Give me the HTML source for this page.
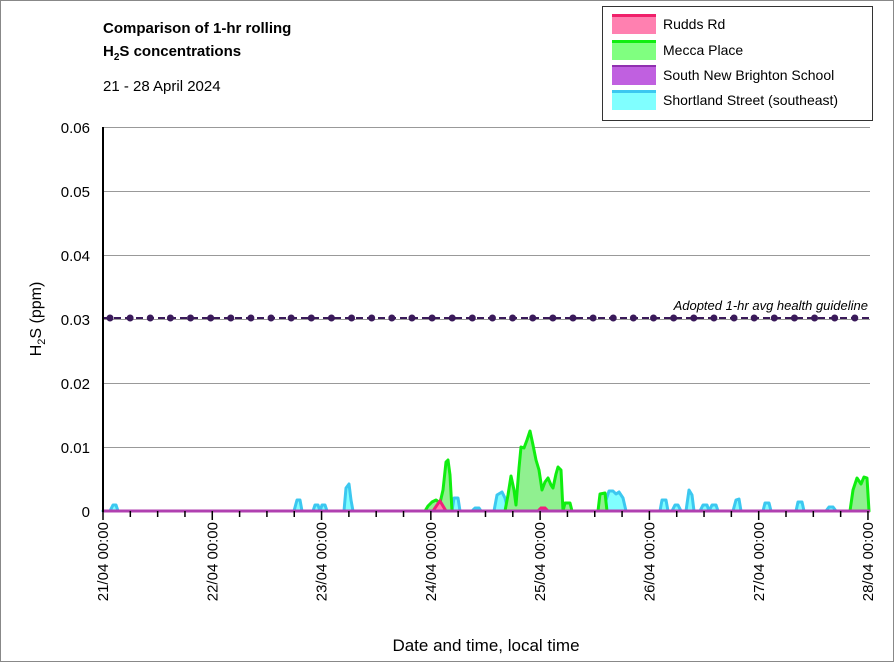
<!DOCTYPE html>
<html><head><style>
body{margin:0;background:#fff;}
svg{display:block;font-family:"Liberation Sans",Calibri,sans-serif;}
</style></head><body>
<svg width="894" height="662" viewBox="0 0 894 662" xmlns="http://www.w3.org/2000/svg">
<rect x="0.5" y="0.5" width="893" height="661" fill="#fff" stroke="#888"/>
<text x="103" y="33" font-size="15" font-weight="bold">Comparison of 1-hr rolling</text>
<text x="103" y="56" font-size="15" font-weight="bold">H<tspan font-size="10" dy="4">2</tspan><tspan dy="-4">S concentrations</tspan></text>
<text x="103" y="91" font-size="15">21 - 28 April 2024</text>
<!-- gridlines -->
<g stroke="#999" stroke-width="1">
<line x1="103" y1="127.5" x2="870" y2="127.5"/>
<line x1="103" y1="191.5" x2="870" y2="191.5"/>
<line x1="103" y1="255.5" x2="870" y2="255.5"/>
<line x1="103" y1="319.5" x2="870" y2="319.5"/>
<line x1="103" y1="383.5" x2="870" y2="383.5"/>
<line x1="103" y1="447.5" x2="870" y2="447.5"/>
</g>
<g font-size="15" text-anchor="end">
<text x="90" y="133">0.06</text><text x="90" y="197">0.05</text><text x="90" y="261">0.04</text>
<text x="90" y="325">0.03</text><text x="90" y="389">0.02</text><text x="90" y="453">0.01</text><text x="90" y="517">0</text>
</g>
<text transform="translate(41,319) rotate(-90)" font-size="16" text-anchor="middle">H<tspan font-size="11" dy="4">2</tspan><tspan dy="-4">S (ppm)</tspan></text>
<!-- guideline -->
<line x1="103" y1="318" x2="870" y2="318" stroke="#3a1a5a" stroke-width="2" stroke-dasharray="7,4"/>
<g fill="#3a1a5a" id="dots"></g>
<text x="868" y="310" font-size="13" font-style="italic" text-anchor="end">Adopted 1-hr avg health guideline</text>
<!-- Shortland -->
<path d="M103 511 L110 511 L113 505 L116 505 L118 511 L294 511 L297 500 L300 500 L302 511 L313 511 L315 505 L318 505 L320 511 L322 505 L325 505 L327 511 L344 511 L346 488 L349 484 L351 500 L353 511 L452 511 L454 498 L458 498 L460 511 L472 511 L475 508 L479 508 L481 511 L494 511 L497 495 L502 492 L505 498 L508 511 L598 511 L602 505 L606 500 L609 491 L613 491 L616 494 L619 492 L623 498 L626 511 L660 511 L662 500 L666 500 L668 511 L672 511 L675 505 L678 505 L681 511 L686 511 L689 490 L692 495 L694 511 L700 511 L703 505 L707 505 L709 511 L712 505 L716 505 L718 511 L733 511 L736 500 L739 499 L741 511 L763 511 L765 503 L769 503 L771 511 L796 511 L798 502 L802 502 L804 511 L826 511 L829 507 L833 507 L836 511 L855 511 L858 500 L864 500 L866 511 Z" fill="#80ffff" stroke="#3cc8f0" stroke-width="3" stroke-linejoin="round"/>
<!-- Mecca -->
<path d="M425 511 L428 506 L432 502 L436 500 L440 503 L443 490 L446 462 L448 460 L450 475 L452 511 L505 511 L508 495 L511 476 L514 490 L516 505 L519 468 L521 447 L524 448 L527 440 L530 431 L533 445 L536 460 L539 470 L542 490 L545 482 L548 478 L551 485 L553 488 L556 474 L558 467 L561 470 L563 511 L565 503 L570 503 L572 511 L598 511 L600 494 L605 493 L607 511 L850 511 L853 490 L857 478 L861 484 L864 477 L867 478 L869 511 Z" fill="#90f090" stroke="#10ee10" stroke-width="3" stroke-linejoin="round"/>
<!-- Rudds -->
<path d="M433 511 L437 505 L440 501 L443 506 L446 511 M538 511 L541 508 L545 508 L548 511" fill="#ff80b0" stroke="#f0207a" stroke-width="3"/>
<line x1="103" y1="511" x2="870" y2="511" stroke="#b040b0" stroke-width="3"/>
<!-- axes -->
<line x1="103" y1="127" x2="103" y2="512" stroke="#000" stroke-width="2"/>
<g id="ticks" stroke="#000" stroke-width="1.5"></g>
<g id="xl" font-size="15"></g>
<text x="486" y="651" font-size="17" text-anchor="middle">Date and time, local time</text>
<!-- legend -->
<rect x="602.5" y="6.5" width="270" height="114" fill="#fff" stroke="#333"/>
<rect x="612" y="14" width="44" height="20" fill="#ff80b0"/><rect x="612" y="14" width="44" height="3" fill="#f0206a"/>
<rect x="612" y="40" width="44" height="20" fill="#80ff80"/><rect x="612" y="40" width="44" height="3" fill="#10ee10"/>
<rect x="612" y="65" width="44" height="20" fill="#c060e0"/><rect x="612" y="65" width="44" height="2" fill="#9030b0"/>
<rect x="612" y="90" width="44" height="20" fill="#80ffff"/><rect x="612" y="90" width="44" height="3" fill="#3cc8f0"/>
<g font-size="14"><text x="663" y="29">Rudds Rd</text><text x="663" y="55">Mecca Place</text><text x="663" y="80">South New Brighton School</text><text x="663" y="105">Shortland Street (southeast)</text></g>
<script>
var ns="http://www.w3.org/2000/svg",d=document.getElementById('dots');
for(var i=0;i<38;i++){var c=document.createElementNS(ns,'circle');c.setAttribute('cx',110+20.13*i);c.setAttribute('cy',318);c.setAttribute('r',3.5);d.appendChild(c);}
var t=document.getElementById('ticks');
for(var i=0;i<=28;i++){var x=103+i*27.32,l=document.createElementNS(ns,'line');l.setAttribute('x1',x);l.setAttribute('x2',x);l.setAttribute('y1',511);l.setAttribute('y2',i%4==0?520:517);t.appendChild(l);}
var xl=document.getElementById('xl');
for(var i=0;i<8;i++){var x=103+i*109.3+5,tx=document.createElementNS(ns,'text');tx.setAttribute('transform','translate('+x+',522) rotate(-90)');tx.setAttribute('text-anchor','end');tx.textContent=(21+i)+'/04 00:00';xl.appendChild(tx);}
</script>
</svg>
</body></html>
